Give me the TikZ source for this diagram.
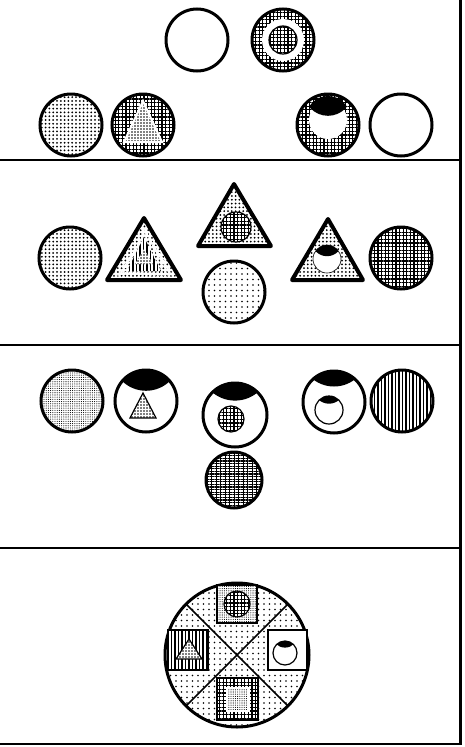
\documentclass[tikz,border=0pt]{standalone}
\usetikzlibrary{patterns.meta,decorations.pathmorphing}
\tikzset{
  gridfill/.style={preaction={fill=white},pattern={Hatch[distance=3.6pt,line width=1.3pt]}},
  dotfill/.style={preaction={fill=white},pattern={Dots[distance=3.8pt,radius=1pt]}},
  densedots/.style={preaction={fill=white},pattern={Dots[distance=3pt,radius=0.9pt]}},
  sparsedots/.style={preaction={fill=white},pattern={Dots[distance=5.5pt,radius=0.85pt]}},
  finedots/.style={preaction={fill=white},pattern={Dots[distance=2.2pt,radius=0.55pt]}},
  stripefill/.style={preaction={fill=white},pattern={Lines[angle=90,distance=3.5pt,line width=1.2pt]}},
  brickfill/.style={preaction={fill=white},pattern={Lines[angle=0,distance=2.6pt,line width=1.3pt]},
    postaction={pattern={Lines[angle=90,distance=4.5pt,line width=0.7pt]}}},
  thickrim/.style={line width=3pt},
  thinrim/.style={line width=1.2pt},
  tririm/.style={line width=4pt,line join=round},
  divider/.style={line width=2pt},
}
% black lid on top of a disc: centre x, centre y, radius, dip
\newcommand{\eyelid}[4]{%
  \begin{scope}
    \clip (#1,#2) circle (#3);
    \fill (#1,{#2+(#4+1.1)*#3}) circle ({1.1*#3});
  \end{scope}}

\begin{document}
\begin{tikzpicture}[x=1pt,y=1pt]
  \useasboundingbox (0,0) rectangle (464,-747);
  % frame
  \draw[line width=3pt] (460,0) -- (460,-745);
  \draw[divider] (0,-160) -- (460,-160);
  \draw[divider] (0,-345) -- (460,-345);
  \draw[divider] (0,-548) -- (460,-548);
  \draw[divider] (0,-744) -- (460,-744);

  % first panel
  \draw[thickrim] (197,-40) circle (31);
  \draw[thickrim,gridfill] (283,-40) circle (31);
  \fill[white] (283,-40) circle (21);
  \draw[thinrim,gridfill] (283,-40) circle (14);
  \draw[thickrim,dotfill] (71,-125) circle (31);
  \draw[thickrim,gridfill] (143,-125) circle (31);
  \draw[white,line width=2pt,densedots] (143,-101) -- (162,-142) -- (124,-142) -- cycle;
  \draw[thickrim,gridfill] (328,-125) circle (31);
  \fill[white] (328,-120) circle (19);
  \eyelid{328}{-118}{22}{0.1}
  \draw[thickrim] (401,-125) circle (31);

  % second panel
  \draw[thickrim,dotfill] (70,-258) circle (31);
  \draw[tririm,dotfill] (144,-218) -- (181,-280) -- (107,-280) -- cycle;
  \draw[white,line width=1.5pt,decorate,decoration={snake,segment length=4pt,amplitude=1pt}]
    (144,-229) -- (170,-274) -- (118,-274) -- cycle;
  \fill[stripefill] (144,-237) -- (161,-271) -- (127,-271) -- cycle;
  \fill[densedots] (144,-249) -- (153,-264) -- (135,-264) -- cycle;
  \draw[tririm,dotfill] (234,-184) -- (271,-246) -- (198,-246) -- cycle;
  \draw[thinrim,gridfill] (236,-227) circle (15);
  \draw[thickrim,sparsedots] (234,-292) circle (31);
  \draw[tririm,dotfill] (328,-219) -- (363,-280) -- (292,-280) -- cycle;
  \fill[white] (327,-259) circle (14);
  \eyelid{327}{-259}{14}{0.2}
  \draw[line width=0.6pt] (327,-259) circle (14);
  \draw[thickrim,gridfill] (401,-258) circle (31);

  % third panel
  \draw[thickrim,finedots] (72,-401) circle (31);
  \eyelid{146}{-401}{31}{0.33}
  \draw[thickrim] (146,-401) circle (31);
  \draw[thinrim,densedots] (143,-393) -- (156,-418) -- (130,-418) -- cycle;
  \eyelid{235}{-415}{32}{0.45}
  \draw[thickrim] (235,-415) circle (32);
  \draw[thinrim,gridfill] (231,-419) circle (13);
  \draw[thickrim,brickfill] (234,-480) circle (28);
  \eyelid{334}{-402}{31}{0.5}
  \draw[thickrim] (334,-402) circle (31);
  \fill[white] (329,-410) circle (14);
  \eyelid{329}{-410}{14}{0.45}
  \draw[thinrim] (329,-410) circle (14);
  \draw[thickrim,stripefill] (402,-401) circle (31);

  % fourth panel
  \coordinate (hub) at (237,-655);
  \draw[thickrim,sparsedots] (hub) circle (72);
  \draw[line width=1.5pt] (hub) +(45:72) -- +(225:72);
  \draw[line width=1.5pt] (hub) +(135:72) -- +(-45:72);
  \draw[thinrim,finedots] (217,-585) rectangle (257,-623);
  \draw[thinrim,gridfill] (237,-604) circle (13);
  \draw[thinrim,stripefill] (168,-630) rectangle (208,-670);
  \draw[thinrim,densedots] (189,-639) -- (202,-659) -- (176,-659) -- cycle;
  \draw[thinrim,fill=white] (268,-630) rectangle (307,-670);
  \fill[white] (285,-653) circle (12);
  \eyelid{285}{-653}{12}{0.45}
  \draw[thinrim] (285,-653) circle (12);
  \draw[thinrim,gridfill] (217,-678) rectangle (258,-720);
  \draw[white,line width=1.5pt,finedots] (227,-688) rectangle (249,-711);
\end{tikzpicture}
\end{document}
